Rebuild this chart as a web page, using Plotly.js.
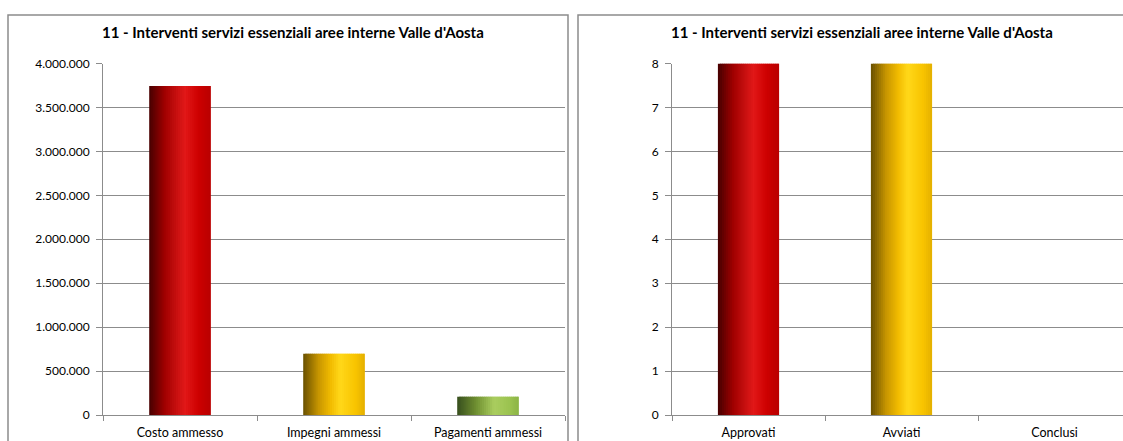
<!DOCTYPE html>
<html>
<head>
<meta charset="utf-8">
<script src="https://cdn.plot.ly/plotly-3.0.1.min.js"></script>
<style>
  html, body { margin: 0; padding: 0; background: #fff; }
  #chart { width: 1123px; height: 441px; }
</style>
</head>
<body>
<div id="chart"></div>
<script>
// ---- data ----
const chartTitle = "11 - Interventi servizi essenziali aree interne Valle d'Aosta";
const amountCategories = ["Costo ammesso", "Impegni ammessi", "Pagamenti ammessi"];
const amountValues = [3745000, 697000, 208000];
const countCategories = ["Approvati", "Avviati", "Conclusi"];
const countValues = [8, 8, 0];

// ---- style: horizontal gradient stops per bar colour ----
const RED = [[0, [70, 0, 0]], [0.25, [160, 0, 0]], [0.45, [200, 16, 16]], [0.58, [225, 24, 24]], [0.8, [205, 0, 0]], [1, [185, 0, 0]]];
const YEL = [[0, [105, 80, 0]], [0.25, [200, 150, 0]], [0.45, [242, 188, 0]], [0.6, [255, 216, 26]], [0.85, [248, 196, 0]], [1, [228, 176, 0]]];
const GRN = [[0, [55, 78, 30]], [0.3, [110, 142, 48]], [0.6, [170, 205, 95]], [0.85, [155, 195, 80]], [1, [140, 180, 70]]];
const amountStops = [RED, YEL, GRN];
const countStops = [RED, YEL, GRN];

function colorAt(stops, t) {
  for (let k = 0; k < stops.length - 1; k++) {
    const [t0, c0] = stops[k], [t1, c1] = stops[k + 1];
    if (t >= t0 && t <= t1) {
      const f = (t - t0) / (t1 - t0);
      const c = c0.map((v, j) => Math.round(v + (c1[j] - v) * f));
      return `rgb(${c[0]},${c[1]},${c[2]})`;
    }
  }
  const c = stops[stops.length - 1][1];
  return `rgb(${c[0]},${c[1]},${c[2]})`;
}

const N = 30;
const BAR = 0.4;
const traces = [];
function addStriped(cats, vals, stopsList, xa, ya) {
  for (let i = 0; i < N; i++) {
    const cols = cats.map((c, j) => colorAt(stopsList[j], (i + 0.5) / N));
    const step = BAR / N;
    const w = (i === N - 1) ? step : step * 1.8;  // overlap to hide seams
    traces.push({
      type: 'bar', x: cats, y: vals, xaxis: xa, yaxis: ya,
      width: w, offset: -BAR / 2 + i * step,
      marker: { color: cols, line: { width: 0 } },
      showlegend: false, hoverinfo: 'skip'
    });
  }
}
addStriped(amountCategories, amountValues, amountStops, 'x', 'y');
addStriped(countCategories, countValues, countStops, 'x2', 'y2');

const W = 1123, H = 441;
const FONT = "Lato, 'Liberation Sans', Arial, sans-serif";
const grid = '#8c8c8c';
const yBottom = (H - 415) / H, yTop = (H - 63.5) / H;

const axisX = (dom, range) => ({
  domain: dom, type: 'category', range: range,
  showline: true, linecolor: grid, linewidth: 1,
  ticks: 'outside', tickson: 'boundaries', ticklen: 5, tickcolor: grid,
  ticklabelstandoff: 6,
  showgrid: false, tickfont: { family: FONT, size: 12.5, color: '#000' },
  fixedrange: true
});
const axisY = (anchor, range, dtick) => ({
  domain: [yBottom, yTop], anchor: anchor, range: range, dtick: dtick,
  showline: true, linecolor: grid, linewidth: 1,
  ticks: 'outside', ticklen: 6, tickcolor: grid,
  ticklabelstandoff: 4,
  showgrid: true, gridcolor: grid, gridwidth: 1, zeroline: false,
  tickformat: ',d', tickfont: { family: FONT, size: 12, color: '#000' },
  fixedrange: true
});

const layout = {
  width: W, height: H,
  margin: { l: 0, r: 0, t: 0, b: 0 },
  paper_bgcolor: '#fff', plot_bgcolor: 'rgba(0,0,0,0)',
  separators: ',.',
  barmode: 'overlay',
  showlegend: false,
  xaxis: Object.assign(axisX([103 / W, 565 / W], [-0.5, 2.5]), { anchor: 'y' }),
  yaxis: axisY('x', [0, 4000000], 500000),
  xaxis2: Object.assign(axisX([672 / W, 1], [-0.5, -0.5 + (W - 672) / 153]), { anchor: 'y2' }),
  yaxis2: axisY('x2', [0, 8], 1),
  shapes: [
    { type: 'rect', xref: 'paper', yref: 'paper', x0: 8 / W, x1: 568 / W, y0: -0.05, y1: (H - 15) / H,
      line: { color: '#8c8c8c', width: 1.5 }, fillcolor: 'rgba(0,0,0,0)', layer: 'below' },
    { type: 'rect', xref: 'paper', yref: 'paper', x0: 578 / W, x1: 1.05, y0: -0.05, y1: (H - 15) / H,
      line: { color: '#8c8c8c', width: 1.5 }, fillcolor: 'rgba(0,0,0,0)', layer: 'below' }
  ],
  annotations: [
    { text: '<b>' + chartTitle + '</b>', xref: 'paper', yref: 'paper', x: 293 / W, y: (H - 32) / H,
      xanchor: 'center', yanchor: 'middle', showarrow: false, font: { family: FONT, size: 15, color: '#000' } },
    { text: '<b>' + chartTitle + '</b>', xref: 'paper', yref: 'paper', x: 862 / W, y: (H - 32) / H,
      xanchor: 'center', yanchor: 'middle', showarrow: false, font: { family: FONT, size: 15, color: '#000' } }
  ]
};

Plotly.newPlot('chart', traces, layout, { staticPlot: true, displayModeBar: false });
</script>
</body>
</html>
